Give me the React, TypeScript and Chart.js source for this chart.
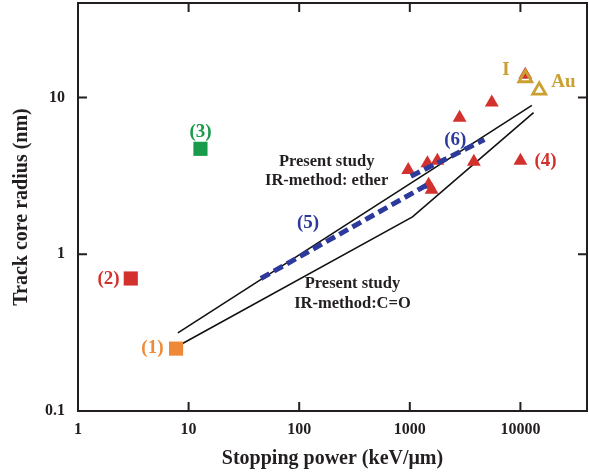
import React, { useEffect, useRef } from "react";
import { Chart, registerables } from "chart.js";

Chart.register(...registerables);

// ---- Axis ticks ----
const xTickValues = [1, 10, 100, 1000, 10000];
const xTickLabels = ["1", "10", "100", "1000", "10000"];
const yTickValues = [0.1, 1, 10];
const yTickLabels = ["0.1", "1", "10"];

// ---- Data (stopping power keV/µm, track core radius nm) ----
const ref1X = [7.7];
const ref1Y = [0.25];
const ref2X = [3];
const ref2Y = [0.7];
const ref3X = [12.8];
const ref3Y = [4.7];
const ref4X = [968, 1443, 1775, 1479, 1574, 3795, 10000, 2820, 5510, 11070];
const ref4Y = [3.44, 3.8, 3.95, 2.77, 2.58, 3.89, 3.95, 7.43, 9.29, 13.95];
const heavyX = [11070, 14790]; // I, Au
const heavyY = [13.3, 11.1];
const etherX = [8, 12700];
const etherY = [0.315, 8.9];
const coX = [7.8, 1057, 13150];
const coY = [0.257, 1.73, 8.0];
const ref5X = [45, 1463];
const ref5Y = [0.7, 2.79];
const ref6X = [1023, 4730];
const ref6Y = [3.14, 5.38];

const RED = "#d3312d";
const ORANGE = "#ee8a37";
const GREEN = "#1a9a4b";
const GOLD = "#c9a031";
const BLUE = "#2d3a9c";
const INK = "#231f20";
const FONT = "'Liberation Serif', 'Times New Roman', serif";

const pts = (xs: number[], ys: number[]) => xs.map((x, i) => ({ x, y: ys[i] }));

// text annotations anchored in data coordinates
const notes = [
  { text: "(1)", x: 4.71, y: 0.251, color: ORANGE, size: 19 },
  { text: "(2)", x: 1.89, y: 0.69, color: RED, size: 19 },
  { text: "(3)", x: 12.8, y: 6.0, color: GREEN, size: 19 },
  { text: "(4)", x: 16860, y: 3.91, color: RED, size: 19 },
  { text: "(5)", x: 120, y: 1.57, color: BLUE, size: 19 },
  { text: "(6)", x: 2577, y: 5.32, color: BLUE, size: 19 },
  { text: "I", x: 7411, y: 14.86, color: GOLD, size: 19 },
  { text: "Au", x: 24480, y: 12.5, color: GOLD, size: 19 },
  { text: "Present study", x: 177, y: 3.87, color: INK, size: 16.5 },
  { text: "IR-method: ether", x: 177, y: 2.92, color: INK, size: 16.5 },
  { text: "Present study", x: 303, y: 0.644, color: INK, size: 16.5 },
  { text: "IR-method:C=O", x: 303, y: 0.485, color: INK, size: 16.5 },
];

const framePlugin = {
  id: "frameAndNotes",
  beforeDatasetsDraw(chart: any) {
    const { ctx, chartArea, scales } = chart;
    const { left, top, right, bottom } = chartArea;
    const L = 9;
    ctx.save();
    ctx.strokeStyle = INK;
    ctx.lineWidth = 2;
    ctx.strokeRect(left, top, right - left, bottom - top);
    ctx.beginPath();
    xTickValues.forEach((v) => {
      const px = scales.x.getPixelForValue(v);
      ctx.moveTo(px, bottom);
      ctx.lineTo(px, bottom - L);
      ctx.moveTo(px, top);
      ctx.lineTo(px, top + L);
    });
    yTickValues.forEach((v) => {
      const py = scales.y.getPixelForValue(v);
      ctx.moveTo(left, py);
      ctx.lineTo(left + L, py);
      ctx.moveTo(right, py);
      ctx.lineTo(right - L, py);
    });
    ctx.stroke();
    ctx.restore();
  },
  afterDatasetsDraw(chart: any) {
    const { ctx, scales } = chart;
    ctx.save();
    ctx.textAlign = "center";
    ctx.textBaseline = "middle";
    notes.forEach((n) => {
      ctx.font = `bold ${n.size}px ${FONT}`;
      ctx.fillStyle = n.color;
      ctx.fillText(n.text, scales.x.getPixelForValue(n.x), scales.y.getPixelForValue(n.y));
    });
    ctx.restore();
  },
};

export default function App() {
  const canvasRef = useRef<HTMLCanvasElement | null>(null);

  useEffect(() => {
    if (!canvasRef.current) return;
    const lineDs = (data: any[], color: string, width: number, dash: number[], order: number) => ({
      type: "line" as const,
      data,
      showLine: true,
      borderColor: color,
      borderWidth: width,
      borderDash: dash,
      pointRadius: 0,
      fill: false,
      tension: 0,
      order,
    });
    const chart = new Chart(canvasRef.current, {
      type: "scatter",
      data: {
        datasets: [
          lineDs(pts(etherX, etherY), "#111", 1.6, [], 6),
          lineDs(pts(coX, coY), "#111", 1.6, [], 6),
          {
            data: pts(ref4X, ref4Y),
            pointStyle: "triangle",
            pointRadius: 8,
            backgroundColor: RED,
            borderWidth: 0,
            order: 5,
          } as any,
          lineDs(pts(ref5X, ref5Y), BLUE, 5, [10, 5], 4),
          lineDs(pts(ref6X, ref6Y), BLUE, 5, [10, 5], 4),
          { data: pts(ref1X, ref1Y), pointStyle: "rect", pointRadius: 10, backgroundColor: ORANGE, borderWidth: 0, order: 3 } as any,
          { data: pts(ref2X, ref2Y), pointStyle: "rect", pointRadius: 10, backgroundColor: RED, borderWidth: 0, order: 3 } as any,
          { data: pts(ref3X, ref3Y), pointStyle: "rect", pointRadius: 10, backgroundColor: GREEN, borderWidth: 0, order: 3 } as any,
          {
            data: pts(heavyX, heavyY),
            pointStyle: "triangle",
            pointRadius: 7.5,
            backgroundColor: "rgba(0,0,0,0)",
            borderColor: GOLD,
            borderWidth: 2.8,
            order: 1,
          } as any,
        ],
      },
      options: {
        animation: false,
        responsive: false,
        events: [],
        layout: { padding: { left: 0, top: 3, right: 2, bottom: 0 }, autoPadding: false },
        plugins: { legend: { display: false }, tooltip: { enabled: false } },
        scales: {
          x: {
            type: "logarithmic",
            position: "bottom",
            min: 1,
            max: 40000,
            grid: { display: false, drawTicks: false },
            border: { display: false },
            afterBuildTicks: (s: any) => {
              s.ticks = xTickValues.map((v) => ({ value: v }));
            },
            afterFit: (s: any) => {
              s.height = 61;
              s.paddingLeft = 0;
              s.paddingRight = 0;
              s.paddingTop = 0;
              s.paddingBottom = 0;
            },
            ticks: {
              padding: 9,
              color: INK,
              autoSkip: false,
              maxRotation: 0,
              font: { family: FONT, size: 16, weight: "bold" },
              callback: (_v: any, i: number) => xTickLabels[i],
            },
            title: {
              display: true,
              text: "Stopping power (keV/μm)",
              color: INK,
              font: { family: FONT, size: 20, weight: "bold" },
              padding: { top: 0, bottom: 1 },
            },
          },
          y: {
            type: "logarithmic",
            position: "left",
            min: 0.1,
            max: 40,
            grid: { display: false, drawTicks: false },
            border: { display: false },
            afterBuildTicks: (s: any) => {
              s.ticks = yTickValues.map((v) => ({ value: v }));
            },
            afterFit: (s: any) => {
              s.width = 78;
              s.paddingLeft = 0;
              s.paddingRight = 0;
              s.paddingTop = 0;
              s.paddingBottom = 0;
            },
            ticks: {
              padding: 13,
              color: INK,
              autoSkip: false,
              font: { family: FONT, size: 16, weight: "bold" },
              callback: (_v: any, i: number) => yTickLabels[i],
            },
            title: {
              display: true,
              text: "Track core radius (nm)",
              color: INK,
              font: { family: FONT, size: 20, weight: "bold" },
              padding: { top: 10, bottom: 0 },
            },
          },
        },
      } as any,
      plugins: [framePlugin],
    });
    return () => chart.destroy();
  }, []);

  return (
    <canvas
      ref={canvasRef}
      width={589}
      height={472}
      style={{ position: "absolute", left: 0, top: 0, width: 589, height: 472 }}
    />
  );
}
